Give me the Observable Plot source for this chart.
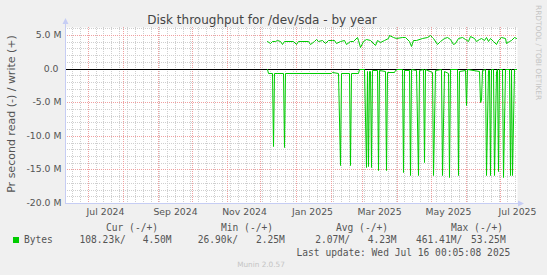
<!DOCTYPE html>
<html><head><meta charset="utf-8">
<script src="https://cdn.jsdelivr.net/npm/d3@7"></script>
<script src="https://cdn.jsdelivr.net/npm/@observablehq/plot@0.6"></script>
<style>
html,body{margin:0;padding:0;background:#f0f0f0;}
#wrap{position:relative;width:547px;height:275px;background:#f0f0f0;overflow:hidden;}
#wrap svg{position:absolute;left:0;top:0;}
</style></head><body><div id="wrap"></div>
<script>
const title = "Disk throughput for /dev/sda - by year";
const yLabel = "Pr second read (-) / write (+)";
const xDomain = ["2024-06-11", "2025-07-16"];
const yDomain = [-20, 6.2]; // millions per second
const yTickValues = [5, 0, -5, -10, -15, -20];
const xLabelDates = ["2024-07-16","2024-09-16","2024-11-16","2025-01-16","2025-03-16","2025-05-16","2025-07-16"];

const writeDates = ["2024-12-07","2024-12-09","2024-12-11","2024-12-14","2024-12-16","2024-12-18","2024-12-20","2024-12-22","2024-12-30",
"2025-01-01","2025-01-03","2025-01-12","2025-01-14","2025-01-17","2025-01-19","2025-01-21","2025-01-24","2025-01-27","2025-01-30",
"2025-02-02","2025-02-04","2025-02-06","2025-02-09","2025-02-13","2025-02-15","2025-02-18","2025-02-21","2025-02-24","2025-02-25","2025-02-27",
"2025-03-02","2025-03-04","2025-03-08","2025-03-12","2025-03-14","2025-03-17","2025-03-20","2025-03-24","2025-03-25","2025-03-28","2025-03-31",
"2025-04-05","2025-04-08","2025-04-11","2025-04-13","2025-04-15","2025-04-18","2025-04-23","2025-04-27","2025-04-30",
"2025-05-02","2025-05-03","2025-05-06","2025-05-09","2025-05-12","2025-05-15","2025-05-18","2025-05-20","2025-05-22","2025-05-25","2025-05-28","2025-05-31",
"2025-06-03","2025-06-04","2025-06-08","2025-06-10","2025-06-12","2025-06-14","2025-06-17","2025-06-19","2025-06-20","2025-06-22","2025-06-25","2025-06-27","2025-06-29",
"2025-07-02","2025-07-05","2025-07-06","2025-07-09","2025-07-11","2025-07-13","2025-07-15"];
const writeValues = [4.16,3.81,4.16,4.16,4.21,4.16,3.71,4.16,4.16,
3.66,4.16,4.16,3.66,4.16,4.41,4.16,4.26,3.81,4.21,
4.26,4.21,3.81,4.16,4.26,3.66,4.16,4.06,4.66,4.31,3.16,
4.16,4.46,4.31,3.46,4.26,3.96,4.26,4.56,4.97,4.66,4.56,
4.71,4.76,4.06,3.31,4.31,4.31,4.56,4.66,4.97,
4.66,4.56,3.66,4.16,4.56,4.66,4.46,3.66,3.81,4.56,4.66,4.46,
4.06,4.82,4.56,4.16,4.46,4.56,4.31,4.66,4.06,4.56,4.16,3.66,4.31,
4.66,4.56,3.81,4.16,4.31,4.66,4.56];

const readDates = ["2024-12-07","2024-12-08","2024-12-11","2024-12-12","2024-12-13","2024-12-21","2024-12-22","2024-12-23",
"2025-02-01","2025-02-02","2025-02-08","2025-02-09","2025-02-10","2025-02-17","2025-02-18","2025-02-19","2025-02-25","2025-02-26",
"2025-03-03","2025-03-04","2025-03-05","2025-03-06","2025-03-07","2025-03-08","2025-03-09","2025-03-10",
"2025-03-14","2025-03-15","2025-03-16","2025-03-21","2025-03-22","2025-03-23","2025-03-29","2025-03-30","2025-04-01",
"2025-04-05","2025-04-06","2025-04-07","2025-04-11","2025-04-12","2025-04-13","2025-04-18","2025-04-19","2025-04-20",
"2025-04-24","2025-04-25","2025-04-26","2025-05-02","2025-05-03","2025-05-04","2025-05-10","2025-05-11","2025-05-12",
"2025-05-16","2025-05-17","2025-05-18","2025-05-24","2025-05-25","2025-05-26","2025-05-31","2025-06-01","2025-06-02",
"2025-06-12","2025-06-13","2025-06-14","2025-06-15","2025-06-18","2025-06-19","2025-06-20","2025-06-21","2025-06-22","2025-06-23",
"2025-06-25","2025-06-26","2025-06-27","2025-06-28","2025-06-29","2025-06-30","2025-07-03","2025-07-04","2025-07-05",
"2025-07-09","2025-07-10","2025-07-11","2025-07-12","2025-07-13","2025-07-15"];
const readValues = [-0.1,-0.7,-0.7,-11.5,-0.7,-0.7,-11.6,-0.7,
-0.7,-0.5,-0.6,-14.4,-0.7,-0.7,-14.4,-0.7,-0.7,-0.1,
-0.1,-14.6,-0.3,-14.5,-0.3,-0.3,-14.7,-0.2,
-0.2,-15.1,-0.2,-0.3,-15.1,-0.5,-0.5,-0.2,-0.05,
-0.05,-15.4,-0.2,-0.15,-15.8,-0.1,-0.2,-15.8,-0.2,
-0.1,-13.9,-0.1,-0.5,-15.9,-0.2,-0.1,-15.9,-0.3,
-0.6,-16.2,-0.1,-0.1,-15.9,-0.3,-0.2,-5.4,-0.1,
-0.3,-4.9,-4.6,-0.2,-0.1,-15.9,-0.2,-0.2,-15.9,-0.1,
-0.1,-15.9,-0.3,-0.1,-15.2,-0.1,-0.1,-16.1,-0.1,
-0.1,-15.9,-0.1,-15.9,-0.1,-0.1];

const legendHeaders = ["Cur (-/+)", "Min (-/+)", "Avg (-/+)", "Max (-/+)"];
const legendSeries = "Bytes";
const legendValues = ["108.23k/", "4.50M", "26.90k/", "2.25M", "2.07M/", "4.23M", "461.41M/", "53.25M"];
const lastUpdate = "Last update: Wed Jul 16 00:05:08 2025";
const footer = "Munin 2.0.57";
const watermark = "RRDTOOL / TOBI OETIKER";

const lineColor = "#00cc00";
const textColor = "#555";
const axisColor = "#c6cdf4";

const parse = d3.utcParse("%Y-%m-%d");
const writeData = writeDates.map((d, i) => ({date: parse(d), value: writeValues[i]}));
const readData = readDates.map((d, i) => ({date: parse(d), value: readValues[i]}));
const x0 = parse(xDomain[0]), x1 = parse(xDomain[1]);
const majorX = d3.utcMonth.range(d3.utcMonth.ceil(x0), x1);
const minorX = d3.utcMonday.range(x0, x1).filter(d => d.getUTCDate() !== 1);
const minorY = d3.range(-19, 7).filter(v => v % 5 !== 0);
const majorY = [5, -5, -10, -15];
const fmtY = v => v === 0 ? "0.0\u00a0" : v.toFixed(1) + " M";

const plot = Plot.plot({
  width: 547, height: 275,
  marginLeft: 65, marginRight: 30, marginTop: 27, marginBottom: 72,
  style: {background: "transparent", fontFamily: "'DejaVu Sans'", fontSize: "9.3px", color: textColor, overflow: "visible"},
  x: {type: "utc", domain: [x0, x1], round: true},
  y: {domain: yDomain, round: true},
  marks: [
    Plot.frame({fill: "#ffffff", stroke: "none"}),
    Plot.ruleX(minorX, {stroke: "#cfcfcf", strokeDasharray: "1,1"}),
    Plot.ruleY(minorY, {stroke: "#cfcfcf", strokeDasharray: "1,1"}),
    Plot.ruleX(majorX, {stroke: "#f0a0a0", strokeDasharray: "1,1"}),
    Plot.ruleY(majorY, {stroke: "#f0a0a0", strokeDasharray: "1,1"}),
    Plot.ruleY([0], {stroke: "#000"}),
    Plot.line(readData, {x: "date", y: "value", stroke: lineColor, strokeWidth: 1}),
    Plot.line(writeData, {x: "date", y: "value", stroke: lineColor, strokeWidth: 1}),
    Plot.ruleY([yDomain[0]], {stroke: axisColor}),
    Plot.ruleX([x0], {stroke: axisColor}),
    Plot.axisY(yTickValues, {tickSize: 0, tickPadding: 4, tickFormat: fmtY, label: null}),
    Plot.axisX(xLabelDates.map(parse), {tickSize: 0, tickPadding: 5, tickFormat: d3.utcFormat("%b %Y"), label: null})
  ]
});
const wrap = document.getElementById("wrap");
wrap.appendChild(plot);

// overlay: title, axis label, arrows, legend
const sx = plot.scale("x"), sy = plot.scale("y");
const L = sx.range[0], R = sx.range[1], B = sy.range[0], T = sy.range[1];
const ov = d3.create("svg").attr("width", 547).attr("height", 275)
  .style("font-family", "'DejaVu Sans'").style("pointer-events", "none");
// axis extensions and arrows
ov.append("line").attr("x1", L + 0.5).attr("x2", L + 0.5).attr("y1", T).attr("y2", T - 4).attr("stroke", axisColor);
ov.append("path").attr("d", `M${L - 2.5},${T - 3}L${L + 3.5},${T - 3}L${L + 0.5},${T - 9}Z`).attr("fill", axisColor);
ov.append("line").attr("x1", R).attr("x2", R + 2).attr("y1", B + 0.5).attr("y2", B + 0.5).attr("stroke", axisColor);
ov.append("path").attr("d", `M${R + 1},${B - 2.5}L${R + 1},${B + 3.5}L${R + 7},${B + 0.5}Z`).attr("fill", axisColor);

ov.append("text").attr("x", 262).attr("y", 24).attr("text-anchor", "middle")
  .attr("font-size", 12).attr("fill", "#444").text(title);
ov.append("text").attr("transform", `translate(15,${(T + B) / 2 - 1}) rotate(-90)`).attr("text-anchor", "middle")
  .attr("font-size", 11).attr("fill", textColor).text(yLabel);
ov.append("text").attr("transform", "translate(535.5,5) rotate(90)")
  .attr("font-size", 7.4).attr("fill", "#c4c4c4").text(watermark);

const mono = ov.append("g").attr("font-family", "'DejaVu Sans Mono'").attr("font-size", 9.6).attr("fill", textColor);
const headerX = [106, 221, 336, 451];
legendHeaders.forEach((h, i) => mono.append("text").attr("x", headerX[i]).attr("y", 231).text(h));
ov.append("rect").attr("x", 13).attr("y", 237).attr("width", 6).attr("height", 6).attr("fill", lineColor);
mono.append("text").attr("x", 24).attr("y", 243).text(legendSeries);
const valueX = [79.5, 142.7, 197.7, 256, 315.3, 367.7, 416, 471];
legendValues.forEach((v, i) => mono.append("text").attr("x", valueX[i]).attr("y", 243).text(v));
mono.append("text").attr("x", 296.5).attr("y", 255.5).text(lastUpdate);
ov.append("text").attr("x", 261).attr("y", 266.5).attr("text-anchor", "middle")
  .attr("font-size", 7.3).attr("fill", "#c4c4c4").text(footer);
wrap.appendChild(ov.node());
</script></body></html>
